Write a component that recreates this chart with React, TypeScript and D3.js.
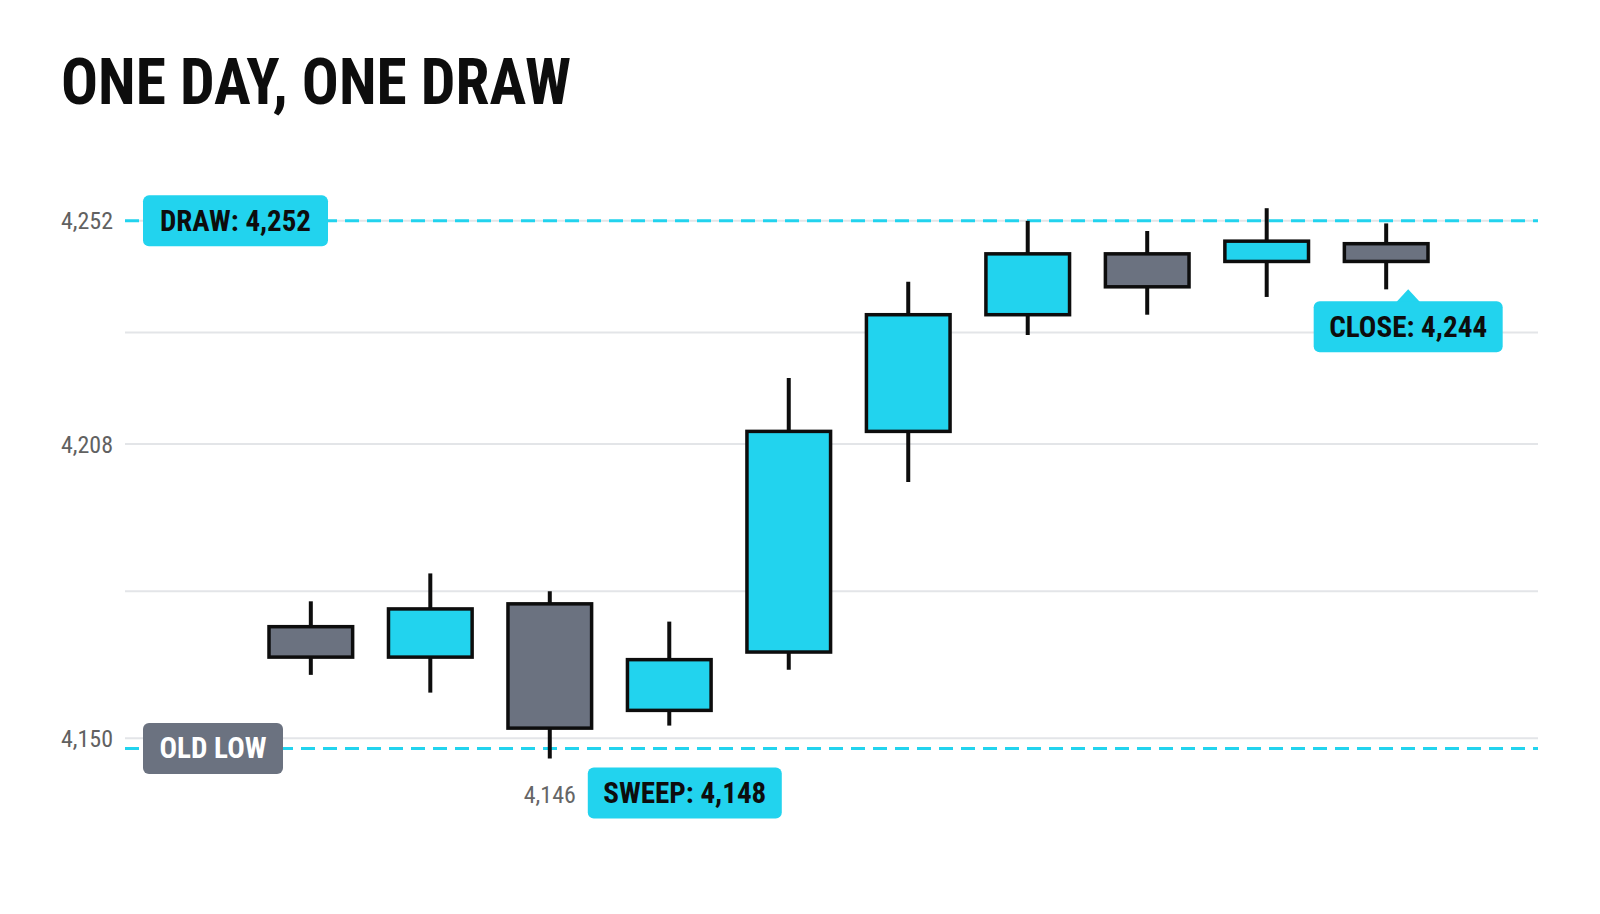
import * as d3 from 'd3';
import React, { useEffect, useRef } from 'react';

const candleIds = ['1', '2', '3', '4', '5', '6', '7', '8', '9', '10'];
const opens = [4172, 4166, 4176.5, 4155.5, 4167, 4210.5, 4233.5, 4245.5, 4244, 4247.5];
const highs = [4177, 4182.5, 4179, 4173, 4221, 4240, 4252, 4250, 4254.5, 4251.5];
const lows = [4162.5, 4159, 4146, 4152.5, 4163.5, 4200.5, 4229.5, 4233.5, 4237, 4238.5];
const closes = [4166, 4175.5, 4152, 4165.5, 4210.5, 4233.5, 4245.5, 4239, 4248, 4244];

const tickValues = [4252, 4208, 4150];
const drawLevel = 4252;
const oldLowLevel = 4148;
const sweepLevel = 4148;

const CYAN = '#22d3ee';
const GRAY = '#6b7280';
const INK = '#0d0d0d';
const condensed = "'Roboto Condensed', 'Liberation Sans Narrow', 'DejaVu Sans Condensed', Roboto, sans-serif";

const App = () => {
  const d3Container = useRef<SVGSVGElement | null>(null);

  const drawChart = () => {
    if (!d3Container.current) return;
    const svg = d3.select(d3Container.current);
    svg.selectAll('*').remove();

    const gridLeft = 125;
    const gridRight = 1538;
    const fmt = d3.format(',');

    const y = d3.scaleLinear().domain([4140, 4264]).range([789, 160]);
    const x = d3.scaleBand().domain(candleIds).range([269, 1428]).paddingInner(0.3);
    const bw = x.bandwidth();

    const data = candleIds.map((id, i) => ({ id, o: opens[i], h: highs[i], l: lows[i], c: closes[i] }));

    // title
    svg
      .append('text')
      .attr('x', 61)
      .attr('y', 104)
      .attr('font-family', condensed)
      .attr('font-weight', 700)
      .attr('font-size', 64)
      .attr('textLength', 510)
      .attr('lengthAdjust', 'spacingAndGlyphs')
      .attr('fill', INK)
      .text('ONE DAY, ONE DRAW');

    // gridlines at tick values and halfway between
    const gridValues = tickValues.concat(d3.pairs(tickValues).map(([a, b]) => (a + b) / 2));
    svg
      .append('g')
      .selectAll('line')
      .data(gridValues)
      .enter()
      .append('line')
      .attr('x1', gridLeft)
      .attr('x2', gridRight)
      .attr('y1', (d) => y(d))
      .attr('y2', (d) => y(d))
      .attr('stroke', '#e3e5e8')
      .attr('stroke-width', 2);

    // tick labels
    svg
      .append('g')
      .selectAll('text')
      .data(tickValues)
      .enter()
      .append('text')
      .attr('x', 113)
      .attr('y', (d) => y(d) + 8.5)
      .attr('text-anchor', 'end')
      .attr('font-family', condensed)
      .attr('font-size', 24)
      .attr('textLength', 52)
      .attr('lengthAdjust', 'spacingAndGlyphs')
      .attr('fill', '#616161')
      .text((d) => fmt(d));

    // dashed levels
    [drawLevel, oldLowLevel].forEach((lvl) => {
      svg
        .append('line')
        .attr('x1', gridLeft)
        .attr('x2', gridRight)
        .attr('y1', y(lvl))
        .attr('y2', y(lvl))
        .attr('stroke', CYAN)
        .attr('stroke-width', 3)
        .attr('stroke-dasharray', '14 8');
    });

    // candles
    const cg = svg.append('g');
    cg.selectAll('.wick')
      .data(data)
      .enter()
      .append('line')
      .attr('class', 'wick')
      .attr('x1', (d) => x(d.id) + bw / 2)
      .attr('x2', (d) => x(d.id) + bw / 2)
      .attr('y1', (d) => y(d.h))
      .attr('y2', (d) => y(d.l))
      .attr('stroke', INK)
      .attr('stroke-width', 4);

    cg.selectAll('.body')
      .data(data)
      .enter()
      .append('rect')
      .attr('class', 'body')
      .attr('x', (d) => x(d.id))
      .attr('y', (d) => y(Math.max(d.o, d.c)))
      .attr('width', bw)
      .attr('height', (d) => Math.abs(y(d.o) - y(d.c)))
      .attr('fill', (d) => (d.c >= d.o ? CYAN : GRAY))
      .attr('stroke', INK)
      .attr('stroke-width', 3.5);

    const pill = (left, top, w, h, fill, label, color, textW) => {
      const g = svg.append('g');
      g.append('rect').attr('x', left).attr('y', top).attr('width', w).attr('height', h).attr('rx', 6).attr('fill', fill);
      g.append('text')
        .attr('x', left + w / 2)
        .attr('y', top + h / 2 + 10)
        .attr('text-anchor', 'middle')
        .attr('font-family', condensed)
        .attr('font-weight', 700)
        .attr('font-size', 29)
        .attr('textLength', textW)
        .attr('lengthAdjust', 'spacingAndGlyphs')
        .attr('fill', color)
        .text(label);
      return g;
    };

    // DRAW + OLD LOW tags on the left
    pill(143, y(drawLevel) - 25.5, 185, 51, CYAN, `DRAW: ${fmt(drawLevel)}`, INK, 151);
    pill(143, y(oldLowLevel) - 25.5, 140, 51, GRAY, 'OLD LOW', '#ffffff', 107);

    // sweep candle
    const sweep = data[d3.minIndex(data, (d) => d.l)];
    const sweepX = x(sweep.id) + bw / 2;
    svg
      .append('text')
      .attr('x', sweepX)
      .attr('y', y(sweep.l) + 44)
      .attr('text-anchor', 'middle')
      .attr('font-family', condensed)
      .attr('font-size', 24)
      .attr('textLength', 52)
      .attr('lengthAdjust', 'spacingAndGlyphs')
      .attr('fill', '#666666')
      .text(fmt(sweep.l));
    pill(sweepX + 38, y(oldLowLevel) + 19, 194, 51, CYAN, `SWEEP: ${fmt(sweepLevel)}`, INK, 163);

    // close callout
    const last = data[data.length - 1];
    const apexX = x(last.id) + bw / 2 + 22;
    const apexY = y(last.l);
    const boxTop = apexY + 12;
    svg
      .append('path')
      .attr('d', `M${apexX - 12},${boxTop + 1}L${apexX},${apexY}L${apexX + 12},${boxTop + 1}Z`)
      .attr('fill', CYAN);
    pill(apexX - 94.5, boxTop, 189, 51, CYAN, `CLOSE: ${fmt(last.c)}`, INK, 158);
  };

  useEffect(() => {
    drawChart();
  }, []);

  return (
    <svg
      ref={d3Container}
      width={1600}
      height={914}
      style={{ position: 'absolute', left: 0, top: 0, background: '#ffffff' }}
    />
  );
};

export default App;
